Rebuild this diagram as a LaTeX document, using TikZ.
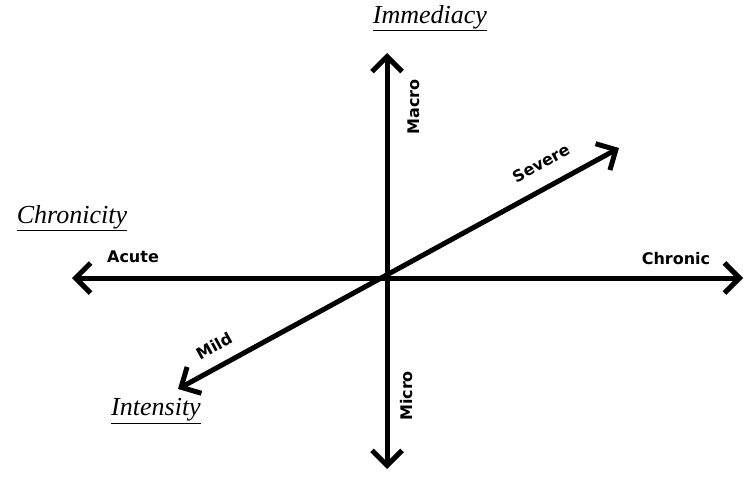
\documentclass[tikz,border=0pt]{standalone}
\usepackage{fontspec}
\setmainfont{Liberation Serif}
\newfontfamily\labelfont{DejaVu Sans}
\usetikzlibrary{arrows.meta}

\tikzset{
  axis/.style={line width=5pt,{Straight Barb[length=15pt,width=30pt,line width=5pt]}-{Straight Barb[length=15pt,width=30pt,line width=5pt]}},
  axisname/.style={font=\fontsize{26}{30}\selectfont\itshape},
  endname/.style={font=\labelfont\bfseries\fontsize{16}{19}\selectfont}
}

\begin{document}
\begin{tikzpicture}[x=1pt,y=-1pt]
\useasboundingbox (0,0) rectangle (746,481);

% axes
\coordinate (west) at (72,278);
\coordinate (east) at (743,278);
\coordinate (north) at (387,53);
\coordinate (south) at (387,469);
\coordinate (mild end) at (178,389);
\coordinate (severe end) at (619,148);

\draw[axis] (west) -- (east);
\draw[axis] (south) -- (north);
\draw[axis] (mild end) -- (severe end);

% names of the axes
\node[axisname] (immediacy) at (430,18) {\underline{Immediacy}};
\node[axisname] (chronicity) at (72,218) {\underline{Chronicity}};
\node[axisname] (intensity) at (156,411) {\underline{Intensity}};

% ends
\node[endname] (acute) at (133,257) {Acute};
\node[endname] (chronic) at (676,259) {Chronic};
\node[endname,rotate=90] (macro) at (414,107) {Macro};
\node[endname,rotate=90] (micro) at (407,396) {Micro};
\node[endname,rotate=28.8] (severe) at (541,163) {Severe};
\node[endname,rotate=28.8] (mild) at (214,346) {Mild};

\end{tikzpicture}
\end{document}
